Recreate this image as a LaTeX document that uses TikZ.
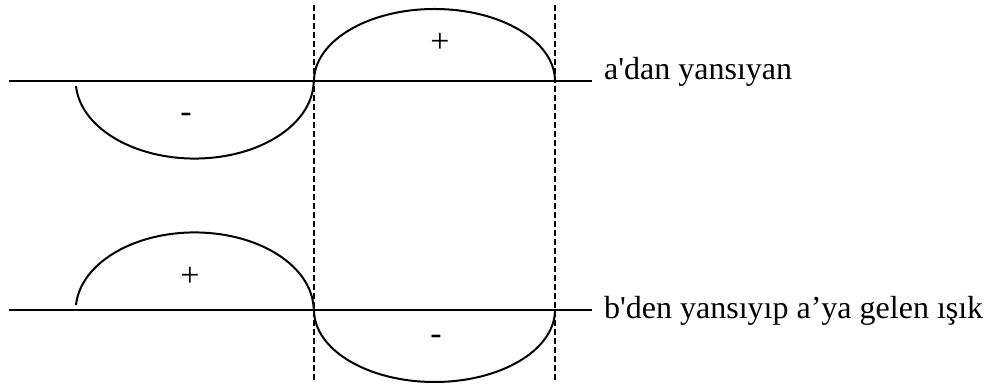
\documentclass[tikz,border=0pt]{standalone}
\usepackage{fontspec}
\setmainfont{Liberation Serif}
\usepackage{tikz}
\usetikzlibrary{positioning}

\begin{document}
\begin{tikzpicture}[
  x=1pt,y=1pt,
  axis/.style={line width=2pt},
  wave/.style={line width=2pt},
  marker/.style={line width=1.6pt,dash pattern=on 6pt off 3pt},
  lbl/.style={font=\fontsize{32}{36}\selectfont,anchor=base west,inner sep=0pt},
  sgn/.style={font=\fontsize{34}{38}\selectfont,inner sep=0pt}
]
\useasboundingbox (0,0) rectangle (989,385);
% reference lines
\draw[axis] (9,304) coordinate (ta) -- (592,304) coordinate (tb);
\draw[axis] (9,75) coordinate (ba) -- (592,75) coordinate (bb);
\draw[marker] (314,380) coordinate (d1) -- (314,3);
\draw[marker] (555,380) coordinate (d2) -- (555,3);
% upper wave
\draw[wave] (76,299) arc[start angle=184,end angle=360,x radius=119,y radius=78];
\draw[wave] (314,304) arc[start angle=180,end angle=0,x radius=120.5,y radius=72];
% lower wave
\draw[wave] (76,80) arc[start angle=176,end angle=0,x radius=119,y radius=78];
\draw[wave] (314,75) arc[start angle=180,end angle=360,x radius=120.5,y radius=72];
% signs
\node[sgn] (tminus) at (186,267) {-};
\node[sgn] (tplus) at (440,342) {+};
\node[sgn] (bplus) at (190,108) {+};
\node[sgn] (bminus) at (436,45) {-};
% labels
\node[lbl] (toplbl) at (604,305) {a\textquotesingle dan yansıyan};
\node[lbl] (botlbl) at (604,66) {b\textquotesingle den yansıyıp a’ya gelen ışık};
\end{tikzpicture}
\end{document}
